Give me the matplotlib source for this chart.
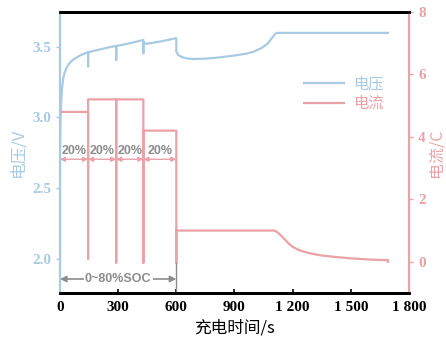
import matplotlib
matplotlib.use("Agg")
import matplotlib.pyplot as plt
from matplotlib.ticker import FuncFormatter

# charge time (s) and voltage (V)
t_v = [0, 2, 5, 10, 17, 25, 35, 50, 70, 100, 125, 145, 145, 145, 180, 220, 260, 290, 290, 290,
       330, 380, 430, 430, 430, 445, 480, 520, 560, 600, 600, 610, 630, 660, 690, 750, 820, 900,
       960, 1000, 1040, 1070, 1090, 1110, 1118, 1400, 1692]
volt = [2.8, 2.95, 3.08, 3.2, 3.28, 3.32, 3.355, 3.385, 3.41, 3.435, 3.45, 3.46, 3.36, 3.46,
        3.472, 3.484, 3.497, 3.505, 3.405, 3.505, 3.515, 3.53, 3.547, 3.453, 3.53, 3.52, 3.527,
        3.537, 3.548, 3.56, 3.465, 3.44, 3.425, 3.415, 3.412, 3.415, 3.423, 3.437, 3.45, 3.465,
        3.49, 3.52, 3.555, 3.59, 3.597, 3.597, 3.597]

# charge time (s) and current (C)
t_i = [0, 0, 145, 145, 145, 290, 290, 290, 430, 430, 430, 600, 600, 600, 1105, 1120, 1140,
       1160, 1180, 1200, 1230, 1260, 1290, 1350, 1410, 1500, 1600, 1692, 1692]
curr = [0, 4.8, 4.8, 0.1, 5.2, 5.2, -0.03, 5.2, 5.2, -0.03, 4.2, 4.2, -0.03, 1.0, 1.0, 0.95,
        0.84, 0.71, 0.58, 0.48, 0.38, 0.32, 0.27, 0.2, 0.16, 0.11, 0.07, 0.05, 0.0]

step_edges = [0, 145, 290, 430, 600]
step_labels = ["20%", "20%", "20%", "20%"]

blue = "#a8cbe3"
pink = "#eaa1a7"
grey = "#8c8c8c"
cjk = ["Noto Sans CJK SC", "DejaVu Sans"]
num_font = "Liberation Serif"

fig = plt.figure(figsize=(4.46, 3.42), dpi=100)
ax = fig.add_axes([0.1345, 0.1433, 0.7825, 0.8217])
ax2 = ax.twinx()

l1, = ax.plot(t_v, volt, color=blue, lw=1.6, label="电压")
l2, = ax2.plot(t_i, curr, color=pink, lw=1.6, label="电流")

ax.set_xlim(0, 1800)
ax.set_ylim(1.757, 3.745)
ax2.set_ylim(-1, 8)
ax.set_xticks([0, 300, 600, 900, 1200, 1500, 1800])
ax.xaxis.set_major_formatter(FuncFormatter(lambda v, p: f"{int(v):,}".replace(",", " ")))
ax.set_yticks([2.0, 2.5, 3.0, 3.5])
ax2.set_yticks([0, 2, 4, 6, 8])

for a in (ax, ax2):
    a.spines["top"].set_color("black")
    a.spines["top"].set_linewidth(2)
    a.spines["bottom"].set_color("black")
    a.spines["bottom"].set_linewidth(2)
    a.spines["left"].set_color(blue)
    a.spines["left"].set_linewidth(1.5)
    a.spines["right"].set_color(pink)
    a.spines["right"].set_linewidth(1.5)

ax.tick_params(axis="x", direction="in", length=3, width=1.2, colors="black", pad=6)
ax.tick_params(axis="y", direction="out", length=3, width=1, colors=blue)
ax2.tick_params(axis="y", direction="out", length=3, width=1, colors=pink)
for lab in ax.get_xticklabels():
    lab.set_fontfamily(num_font)
    lab.set_fontweight("bold")
    lab.set_fontsize(11)
for lab in ax.get_yticklabels():
    lab.set_fontfamily(num_font)
    lab.set_fontweight("bold")
    lab.set_fontsize(11)
    lab.set_color(blue)
for lab in ax2.get_yticklabels():
    lab.set_fontfamily(num_font)
    lab.set_fontweight("bold")
    lab.set_fontsize(11)
    lab.set_color(pink)

ax.set_xlabel("充电时间/s", family=cjk, fontsize=12, color="black", labelpad=4)
ax.set_ylabel("电压/V", family=cjk, fontsize=12, color=blue, labelpad=4)
ax2.set_ylabel("电流/C", family=cjk, fontsize=11.5, color=pink, labelpad=1)

# step annotations
for i, txt in enumerate(step_labels):
    a0, a1 = step_edges[i], step_edges[i + 1]
    ax.annotate("", xy=(a0, 2.703), xytext=(a1, 2.703),
                arrowprops=dict(arrowstyle="<|-|>", color=pink, lw=1, mutation_scale=7,
                                shrinkA=0, shrinkB=0))
    ax.text((a0 + a1) / 2, 2.764, txt, ha="center", va="center", color=grey,
            fontsize=9, fontweight="bold", family="Liberation Sans")

ax.annotate("", xy=(0, 1.856), xytext=(600, 1.856),
            arrowprops=dict(arrowstyle="<|-|>", color=grey, lw=1.2, mutation_scale=9,
                            shrinkA=0, shrinkB=0))
ax.text(300, 1.856, "0~80%SOC", ha="center", va="center", color=grey, fontsize=9,
        fontweight="bold", family="Liberation Sans",
        bbox=dict(facecolor="white", edgecolor="none", pad=1))
ax2.plot([600, 600], [-0.03, -1], color=grey, lw=1)

leg = ax2.legend(handles=[l1, l2], loc="upper left", bbox_to_anchor=(0.66, 0.825),
                 frameon=False, prop={"family": cjk, "size": 11}, handlelength=2.6,
                 handletextpad=0.6, labelspacing=0.2)
for txt, c in zip(leg.get_texts(), [blue, pink]):
    txt.set_color(c)

fig.savefig("out.png", dpi=100)
